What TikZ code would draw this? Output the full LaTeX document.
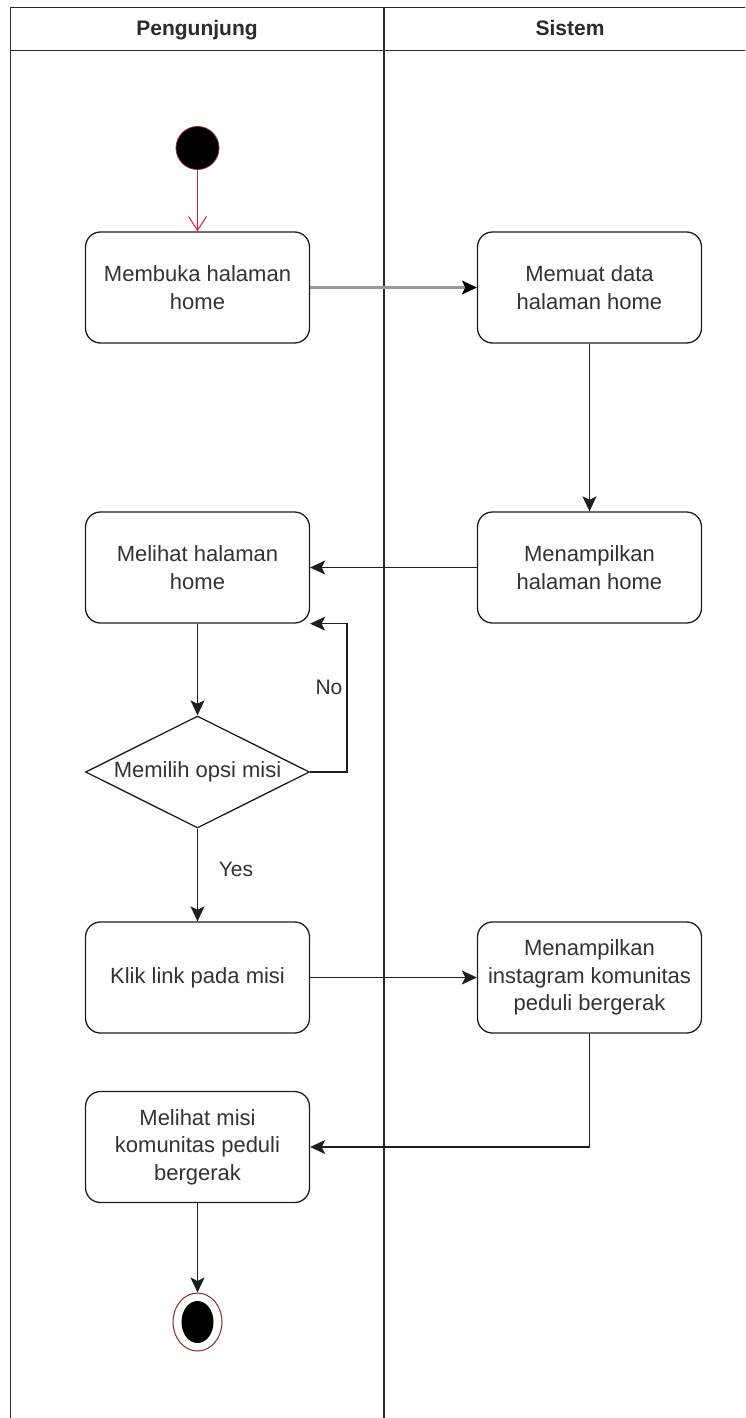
\documentclass[tikz,border=0pt]{standalone}
\usepackage{fontspec}
\setmainfont{Liberation Sans}
\usetikzlibrary{arrows.meta,shapes.geometric,calc}
\definecolor{lanec}{HTML}{2B2B2B}
\definecolor{boxc}{HTML}{1E1E1E}
\definecolor{txtc}{HTML}{333333}
\definecolor{startred}{HTML}{CC2233}
\definecolor{ringred}{HTML}{8A2A2A}
\tikzset{
  lane/.style={draw=lanec, line width=1.6pt},
  act/.style={draw=boxc, line width=1.3pt, rounded corners=15pt, minimum width=224pt, minimum height=111pt,
    align=center, text=txtc, font=\fontsize{22}{27.5}\selectfont, inner sep=0pt},
  dia/.style={draw=boxc, line width=1.3pt, diamond, aspect=2, minimum width=224pt, minimum height=112pt, inner sep=0pt},
  txt/.style={text=txtc, font=\fontsize{22}{27.5}\selectfont, inner sep=0pt, align=center},
  lbl/.style={text=txtc, font=\fontsize{21}{26}\selectfont, inner sep=0pt},
  hdr/.style={text=lanec, font=\bfseries\fontsize{21}{26}\selectfont, inner sep=0pt, text height=15pt, text depth=4.5pt},
  flow/.style={draw=boxc, line width=1.3pt, -{Stealth[length=15pt,width=14pt,inset=3.5pt]}},
  flowgray/.style={draw=gray!80, line width=2.2pt, -{Stealth[length=15pt,width=14pt,inset=3.5pt,fill=black,color=black,line width=0.8pt]}},
  startflow/.style={draw=startred, line width=1pt, -{Straight Barb[length=14pt,width=18pt,line width=1pt]}},
}
\begin{document}
\begin{tikzpicture}[x=1pt,y=-1pt]
\useasboundingbox (0,0) rectangle (745,1418);
\clip (0,0) rectangle (745,1418);
\fill[white] (0,0) rectangle (745,1418);
% swimlanes
\draw[lane] (10.5,1430) -- (10.5,7.5) -- (760,7.5);
\draw[lane] (10.5,50.5) -- (760,50.5);
\draw[lane] (384,7.5) -- (384,1430);
\node[hdr] (h1) at (197,30) {Pengunjung};
\node[hdr] (h2) at (570,30) {Sistem};
% start
\node[circle, fill=black, draw=ringred, line width=0.8pt, minimum size=43pt, inner sep=0pt] (s) at (197.5,148) {};
% activities
\node[act] (b1) at (197.5,287.5) {Membuka halaman\\home};
\node[act] (b2) at (589.5,287.5) {Memuat data\\halaman home};
\node[act] (b3) at (589.5,567.5) {Menampilkan\\halaman home};
\node[act] (b4) at (197.5,567.5) {Melihat halaman\\home};
\node[dia] (d) at (197.5,772) {};
\node[txt] (dt) at (d.center) {Memilih opsi misi};
\node[act] (b5) at (197.5,977.5) {Klik link pada misi};
\node[act] (b6) at (589.5,977.5) {Menampilkan\\instagram komunitas\\peduli bergerak};
\node[act] (b7) at (197.5,1147) {Melihat misi\\komunitas peduli\\bergerak};
% end
\node[ellipse, draw=ringred, line width=1pt, fill=white, minimum width=49pt, minimum height=58pt, inner sep=0pt] (e) at (197.5,1322) {};
\node[ellipse, fill=black, minimum width=32pt, minimum height=42pt, inner sep=0pt] (ei) at (e.center) {};
% labels
\node[lbl] (lno) at (329,687) {No};
\node[lbl] (lyes) at (236,869) {Yes};
\coordinate (nx) at (347,700);
% connectors
\draw[startflow] (s.south) -- (b1.north);
\draw[flowgray] (b1.east) -- (b2.west);
\draw[flow] (b2.south) -- (b3.north);
\draw[flow] (b3.west) -- (b4.east);
\draw[flow] (b4.south) -- (d.north);
\draw[flow] (d.east) -| (nx) |- (b4.south east);
\draw[flow] (d.south) -- (b5.north);
\draw[flow] (b5.east) -- (b6.west);
\draw[flow] (b6.south) |- (b7.east);
\draw[flow] (b7.south) -- (e.north);
\end{tikzpicture}
\end{document}
